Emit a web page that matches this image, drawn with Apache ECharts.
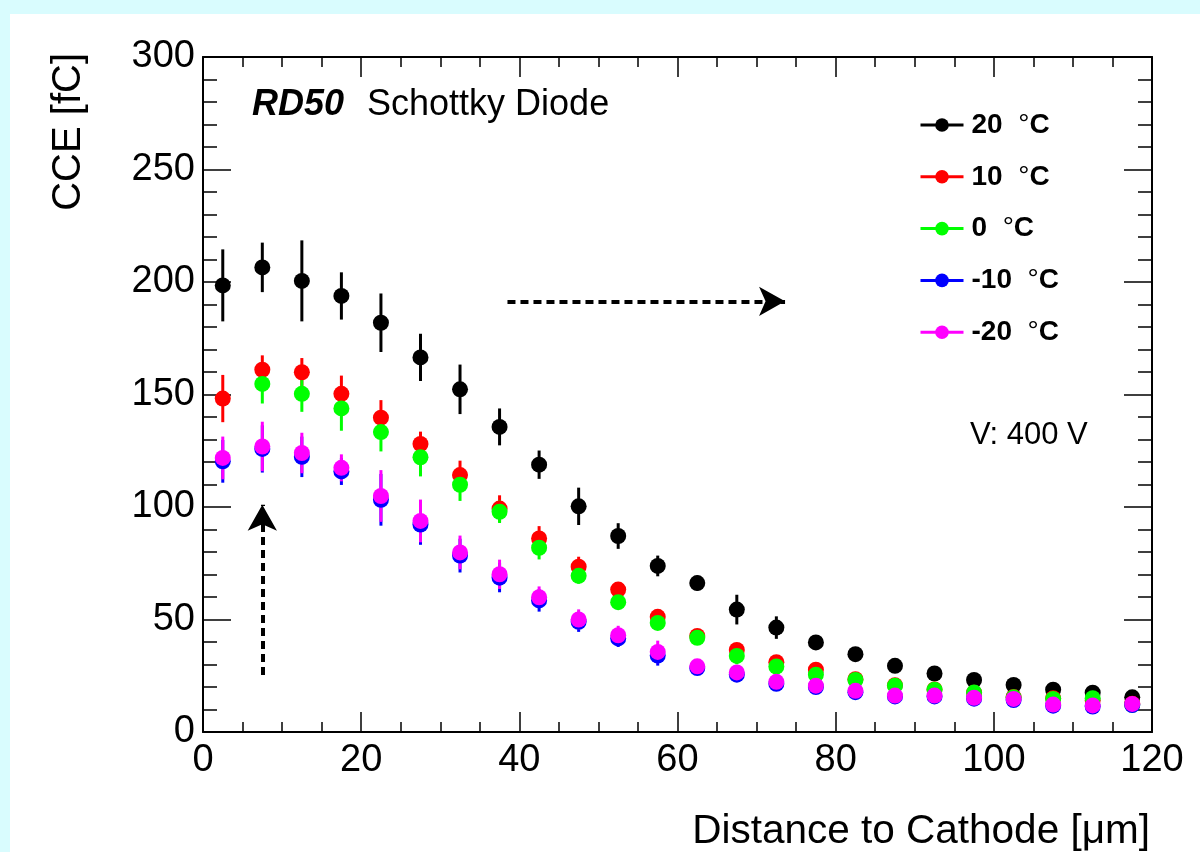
<!DOCTYPE html>
<html>
<head>
<meta charset="utf-8">
<script src="https://cdn.jsdelivr.net/npm/echarts@6/dist/echarts.min.js"></script>
<style>
  html, body { margin: 0; padding: 0; background: #d9fcfe; }
  #panel { position: absolute; left: 10px; top: 14px; width: 1190px; height: 838px; background: #ffffff; }
  #chart { position: absolute; left: 0; top: 0; width: 1200px; height: 852px; }
</style>
</head>
<body>
<div id="panel"></div>
<div id="chart"></div>
<script>
// ---- data ----
const xs = [2.5, 7.5, 12.5, 17.5, 22.5, 27.5, 32.5, 37.5, 42.5, 47.5, 52.5, 57.5,
            62.5, 67.5, 72.5, 77.5, 82.5, 87.5, 92.5, 97.5, 102.5, 107.5, 112.5, 117.5];

const names = ['20 °C', '10 °C', '0 °C', '-10 °C', '-20 °C'];
const colors = ['#000000', '#ff0000', '#00ff00', '#0000ff', '#ff00ff'];

const cce20 = [198.5, 206.5, 200.5, 193.8, 181.9, 166.5, 152.3, 135.6, 118.8, 100.3, 87.1, 73.8,
               66.2, 54.4, 46.4, 39.8, 34.6, 29.4, 26.0, 23.1, 20.9, 18.8, 17.5, 15.4];
const err20 = [16, 11, 18, 10.5, 13, 10.5, 11, 8.2, 6.3, 8.3, 5.7, 4.6,
               3.3, 6.6, 5, 3, 1.5, 1.2, 1.2, 1, 1, 1, 1, 1];

const cce10 = [148.2, 161.0, 159.9, 150.3, 139.7, 128.0, 114.2, 99.3, 86.0, 73.5, 63.3, 51.2,
               42.7, 36.5, 31.0, 27.7, 23.5, 20.8, 18.9, 17.5, 15.6, 15.0, 14.0, 12.6];
const err10 = [10.5, 6.4, 6.3, 8.1, 7.8, 5.5, 6.4, 5.9, 5.5, 4.4, 2.9, 2,
               2, 2.5, 2, 1.5, 1.2, 1, 1, 1, 1, 1, 1, 1];

const cce0 = [null, 154.7, 150.3, 143.8, 133.3, 122.1, 109.9, 97.9, 81.9, 69.4, 57.7, 48.5,
              41.9, 33.8, 29.1, 25.5, 23.1, 20.6, 18.8, 17.6, 15.4, 14.7, 15.0, 12.1];
const err0 = [0, 8.7, 8.0, 9.9, 8.6, 8.5, 7.2, 5, 5.2, 3.5, 3, 2.6,
              2.6, 3.7, 2.4, 1.6, 1.4, 1.4, 1.4, 1.2, 1.2, 1.4, 1.4, 2.5];

const cceM10 = [120.3, 125.8, 122.3, 115.8, 103.2, 92.2, 78.4, 68.6, 58.5, 49.0, 41.6, 34.0,
                28.4, 25.5, 21.4, 20.0, 17.7, 15.8, 15.8, 14.8, 14.2, 11.7, 11.3, 12.0];
const errM10 = [9.5, 10.5, 9, 6, 11.5, 9, 7.5, 6.5, 5, 4.5, 3.8, 4.5,
                2.4, 2.4, 2, 1.5, 1.2, 1.1, 1.1, 1.1, 1, 1, 1, 1.8];

const cceM20 = [121.8, 126.9, 124.0, 117.4, 104.9, 93.8, 79.8, 70.1, 59.9, 50.0, 43.0, 35.6,
                29.2, 26.5, 22.3, 20.6, 18.3, 16.2, 16.2, 15.2, 14.7, 12.2, 11.8, 12.5];
const errM20 = [9.5, 11, 9, 6, 11.5, 9.5, 7.5, 6.5, 4.8, 4.5, 4.2, 5,
                2.5, 2.5, 2, 1.5, 1.2, 1.1, 1.1, 1.1, 1, 1, 1, 1.5];

const values = [cce20, cce10, cce0, cceM10, cceM20];
const errors = [err20, err10, err0, errM10, errM20];

const xTicks = { min: 0, max: 120, interval: 20 };
const yTicks = { min: 0, max: 300, interval: 50 };

// annotation arrows (data coordinates, start -> tip)
const arrowRight = [[38.5, 191.4], [73.6, 191.4]];
const arrowUp = [[7.5, 25.3], [7.5, 101.0]];

// ---- chart ----
const FONT = '"Liberation Sans", Arial, Helvetica, sans-serif';
const chart = echarts.init(document.getElementById('chart'), null, { renderer: 'canvas' });

function errRender(color) {
  return function (params, api) {
    const x = api.value(0), lo = api.value(1), hi = api.value(2);
    const p1 = api.coord([x, lo]);
    const p2 = api.coord([x, hi]);
    return {
      type: 'line',
      shape: { x1: p1[0], y1: p1[1], x2: p2[0], y2: p2[1] },
      style: { stroke: color, lineWidth: 3 }
    };
  };
}

const series = [];
values.forEach((vals, k) => {
  const errData = [];
  const ptData = [];
  xs.forEach((x, i) => {
    if (vals[i] == null) { ptData.push([x, null]); return; }
    errData.push([x, vals[i] - errors[k][i], vals[i] + errors[k][i]]);
    ptData.push([x, vals[i]]);
  });
  series.push({
    type: 'custom',
    name: names[k] + ' err',
    renderItem: errRender(colors[k]),
    data: errData,
    encode: { x: 0, y: [1, 2] },
    silent: true,
    z: 2
  });
  const s = {
    type: 'line',
    name: names[k],
    data: ptData,
    symbol: 'circle',
    symbolSize: 16,
    showSymbol: true,
    color: colors[k],
    itemStyle: { color: colors[k] },
    lineStyle: { color: colors[k], opacity: 0, width: 3 },
    connectNulls: false,
    silent: true,
    animation: false,
    z: 2
  };
  if (k === 0) {
    s.markLine = {
      silent: true,
      animation: false,
      symbol: ['none', 'arrow'],
      symbolSize: [22, 26],
      label: { show: false },
      lineStyle: { color: '#000', width: 4, type: [8, 5] },
      data: [
        [{ coord: arrowRight[0] }, { coord: arrowRight[1] }],
        [{ coord: arrowUp[0] }, { coord: arrowUp[1] }]
      ]
    };
  }
  series.push(s);
});

const axisCommon = {
  type: 'value',
  splitLine: { show: false },
  axisLine: { show: true, onZero: false, lineStyle: { color: '#000', width: 2 } }
};

const option = {
  animation: false,
  backgroundColor: 'transparent',
  textStyle: { fontFamily: FONT },
  grid: { left: 203, right: 48, top: 57, bottom: 115, containLabel: false },
  title: [
    {
      text: '{a|RD50}{g|}{b|Schottky Diode}',
      left: 252, top: 87, padding: 0,
      textStyle: {
        rich: {
          a: { fontFamily: FONT, fontWeight: 'bold', fontStyle: 'italic', fontSize: 36, color: '#000' },
          g: { width: 23 },
          b: { fontFamily: FONT, fontWeight: 'normal', fontSize: 36, color: '#000' }
        }
      }
    },
    {
      text: 'V: 400 V',
      left: 970, top: 420, padding: 0,
      textStyle: { fontFamily: FONT, fontWeight: 'normal', fontSize: 31, color: '#000' }
    }
  ],
  legend: {
    data: names,
    orient: 'vertical',
    left: 919, top: 111,
    itemWidth: 43, itemHeight: 17, itemGap: 23.8,
    padding: 0,
    selectedMode: false,
    lineStyle: { opacity: 1, width: 3 },
    formatter: function (name) {
      const num = name.split(' ')[0];
      return '{b|' + num + '}{sp|  }{d|°}{b|C}';
    },
    textStyle: {
      padding: [0, 0, 0, 3],
      rich: {
        b: { fontFamily: FONT, fontWeight: 'bold', fontSize: 28, color: '#000', lineHeight: 30 },
        sp: { fontFamily: FONT, fontWeight: 'bold', fontSize: 28, lineHeight: 30 },
        d: { fontFamily: FONT, fontWeight: 'normal', fontSize: 28, color: '#000', lineHeight: 30 }
      }
    }
  },
  xAxis: [
    Object.assign({}, axisCommon, {
      position: 'bottom',
      min: xTicks.min, max: xTicks.max, interval: xTicks.interval,
      name: 'Distance to Cathode [μm]',
      nameLocation: 'end',
      nameGap: -2,
      nameTextStyle: { fontFamily: FONT, fontSize: 40.5, color: '#000', align: 'right', verticalAlign: 'top', padding: [79, 0, 0, 0] },
      axisTick: { show: true, inside: true, length: 20, lineStyle: { color: '#000', width: 1.5 } },
      minorTick: { show: true, splitNumber: 4, length: 10, lineStyle: { color: '#000', width: 1.5 } },
      axisLabel: { show: true, margin: 10, fontFamily: FONT, fontSize: 38, color: '#000' }
    }),
    Object.assign({}, axisCommon, {
      position: 'top',
      min: xTicks.min, max: xTicks.max, interval: xTicks.interval,
      axisTick: { show: true, inside: true, length: 20, lineStyle: { color: '#000', width: 1.5 } },
      minorTick: { show: true, splitNumber: 4, length: 10, lineStyle: { color: '#000', width: 1.5 } },
      axisLabel: { show: false }
    })
  ],
  yAxis: [
    Object.assign({}, axisCommon, {
      position: 'left',
      min: yTicks.min, max: yTicks.max, interval: yTicks.interval,
      name: 'CCE [fC]',
      nameLocation: 'end',
      nameGap: 4,
      nameRotate: 90,
      nameTextStyle: { fontFamily: FONT, fontSize: 40, color: '#000', align: 'right', verticalAlign: 'bottom', padding: [0, 0, 114, 0] },
      axisTick: { show: true, inside: true, length: 28, lineStyle: { color: '#000', width: 1.5 } },
      minorTick: { show: true, splitNumber: 5, length: 14, lineStyle: { color: '#000', width: 1.5 } },
      axisLabel: { show: true, margin: 8, fontFamily: FONT, fontSize: 38, color: '#000' }
    }),
    Object.assign({}, axisCommon, {
      position: 'right',
      min: yTicks.min, max: yTicks.max, interval: yTicks.interval,
      axisTick: { show: true, inside: true, length: 28, lineStyle: { color: '#000', width: 1.5 } },
      minorTick: { show: true, splitNumber: 5, length: 14, lineStyle: { color: '#000', width: 1.5 } },
      axisLabel: { show: false }
    })
  ],
  series: series
};

chart.setOption(option);
</script>
</body>
</html>
